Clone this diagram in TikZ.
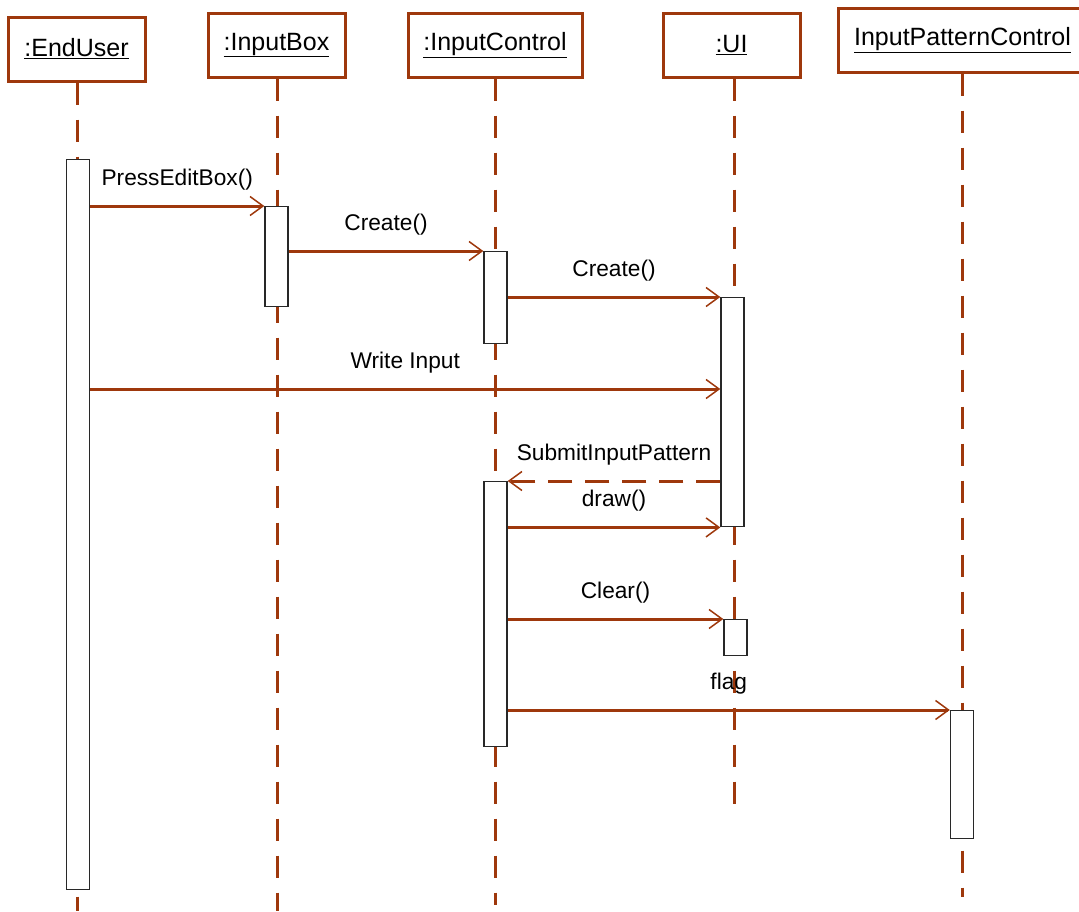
\documentclass[tikz,border=0pt]{standalone}
\usepackage{fontspec}
\setmainfont{Liberation Sans}
\usetikzlibrary{arrows.meta}
\definecolor{rust}{RGB}{158,56,12}
\definecolor{boxline}{RGB}{40,40,40}
\begin{document}
\begin{tikzpicture}[x=1pt,y=-1pt,
  head/.style={draw=rust,line width=3pt,fill=white,inner sep=0pt,minimum height=64pt,
    font=\fontsize{25}{30}\selectfont},
  act/.style={draw=boxline,line width=1.4pt,fill=white,inner sep=0pt,minimum width=23pt,anchor=north},
  life/.style={draw=rust,line width=3pt,dash pattern=on 22pt off 15pt},
  msg/.style={draw=rust,line width=3pt,-{Straight Barb[length=13pt,width=19pt,line width=1.5pt]}},
  reply/.style={msg,dash pattern=on 24pt off 13pt},
  lbl/.style={midway,anchor=base,yshift=21pt,inner sep=0pt,font=\fontsize{22.7}{27}\selectfont}]
\useasboundingbox (0,0) rectangle (1079,911);
\clip (0,0) rectangle (1079,911);

% object headers
\node[head,minimum width=137pt] (euh)  at (76.5,49)  {\underline{:EndUser}};
\node[head,minimum width=137pt] (ibh)  at (276.5,45) {\underline{:InputBox}};
\node[head,minimum width=174pt] (ich)  at (495,45)   {\underline{:InputControl}};
\node[head,minimum width=137pt] (uih)  at (731.5,45) {\underline{:UI}};
\node[head,minimum width=249pt] (ipch) at (962.5,40) {\underline{InputPatternControl}};

% lifeline ends
\coordinate (euend)  at (77,911);
\coordinate (ibend)  at (277,911);
\coordinate (icend)  at (495.5,905);
\coordinate (uiend)  at (734,812);
\coordinate (ipcend) at (962,897);

% lifelines
\draw[life] (euh.south -| euend) -- (euend);
\draw[life] (ibh.south -| ibend) -- (ibend);
\draw[life] (ich.south -| icend) -- (icend);
\draw[life] (uih.south -| uiend) -- (uiend);
\draw[life] (ipch.south -| ipcend) -- (ipcend);

% activation bars
\node[act,minimum height=730pt] (eu)  at (78,159)    {};
\node[act,minimum height=100pt] (ib)  at (276.5,206) {};
\node[act,minimum height=92pt]  (ic1) at (495.5,251) {};
\node[act,minimum height=229pt] (ui1) at (732.5,297) {};
\node[act,minimum height=265pt] (ic2) at (495.5,481) {};
\node[act,minimum height=36pt]  (ui2) at (735.5,619) {};
\node[act,minimum height=128pt] (ipc) at (962,710)   {};

% messages
\draw[msg] (eu.east |- ib.north) -- (ib.north west) node[lbl] {PressEditBox()};
\draw[msg] (ib.east |- ic1.north) -- (ic1.north west) node[lbl] {Create()};
\draw[msg] (ic1.east |- ui1.north) -- (ui1.north west) node[lbl] {Create()};
\draw[msg] (eu.east |- 0,389) -- (ui1.west |- 0,389) node[lbl] {Write Input};
\draw[reply] (ui1.west |- ic2.north) -- (ic2.north east) node[lbl] {SubmitInputPattern};
\draw[msg] (ic2.east |- ui1.south) -- (ui1.south west) node[lbl] {draw()};
\draw[msg] (ic2.east |- ui2.north) -- (ui2.north west) node[lbl] {Clear()};
\draw[msg] (ic2.east |- ipc.north) -- (ipc.north west) node[lbl] {flag};
\end{tikzpicture}
\end{document}
